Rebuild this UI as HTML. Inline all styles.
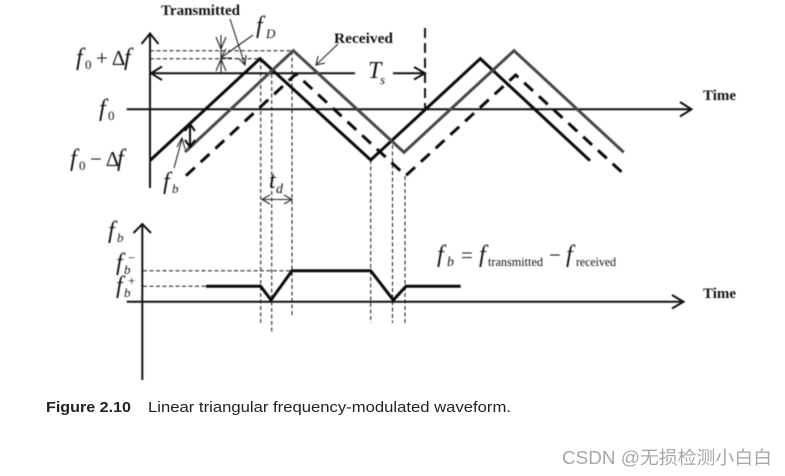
<!DOCTYPE html>
<html><head><meta charset="utf-8"><style>
html,body{margin:0;padding:0;background:#fff;width:785px;height:476px;overflow:hidden}
svg{display:block}
.m{font-family:"Liberation Serif",serif;font-style:italic;fill:#111}
.r{font-family:"Liberation Serif",serif;fill:#111}
.b{font-family:"Liberation Serif",serif;font-weight:bold;fill:#111;font-size:14.500px}
.c{font-family:"Liberation Sans",sans-serif;fill:#222;font-size:14.500px}
</style></head><body>
<svg width="785" height="476" viewBox="0 0 785 476" xmlns="http://www.w3.org/2000/svg">
<g fill="none" stroke-linejoin="miter">
<g style="filter:blur(.4px)">
<!-- thin dashed -->
<g stroke="#111" stroke-width="1" stroke-dasharray="4 2.500">
<path d="M150 50.700H293M150 58.700H260"/>
<path d="M260.700 59V324M271.700 74V333M292 51V317M370.700 160V323M392.500 145V323M405 176V325"/>
<path d="M143 270.700H292M143 286.300H206"/>
</g>
<!-- axes -->
<g stroke="#111" stroke-width="2">
<path d="M150 188V34M141.500 44L150 33.500L158.500 44"/>
<path d="M126.700 109.300H690M680 102L691.500 109.300L680 116.500"/>
<path d="M152 73.300H355M162 66.500L151 73.300L162 80M393 73.300H424M414 67L425 73.300L414 79.500"/>
<path d="M142.300 380V225M133.500 233L142.300 224L151 233"/>
<path d="M126.700 301.700H682M672 295L683.500 301.700L672 308.500"/>
</g>
<path d="M425 28V108" stroke="#111" stroke-width="2" stroke-dasharray="10 5"/>
<!-- waveforms -->
<path d="M150 160.500L260 58.700L370.700 160L480.300 58.700L590 160.700" stroke="#0a0a0a" stroke-width="3"/>
<path d="M185 152L293.300 50.700L404 152.300L514 50.700L623.700 152.300" stroke="#484848" stroke-width="3"/>
<path d="M186 175.700L296 74L405.700 175.700L515.700 75L625.700 175.700" stroke="#0a0a0a" stroke-width="3" stroke-dasharray="12 8"/>
<!-- beat -->
<path d="M206 286.300H260.700L271 300L292 270.700H370.700L393.300 300L406 286.300H460.700" stroke="#0a0a0a" stroke-width="3"/>
<!-- annotation arrows -->
<g stroke="#222" stroke-width="1.100">
<path d="M221 35V73M216 37L221 49L226 37M216 71L221 59L226 71"/>
<path d="M253 35L222 57M226 49L221 58L232 58"/>
<path d="M230 19L245 65M238 58L245 65L246 55"/>
<path d="M338 44L316 65M318 56L316 65L325 63"/>
<path d="M174 168L182 139M177 147L182 138L185 149"/>
<path d="M263 199.500H291M270 195L262 199.500L270 204M284 195L292 199.500L284 204"/>
</g>
<path d="M190 125V146M185 131L190 124L195 131M185 140L190 147L195 140" stroke="#0a0a0a" stroke-width="2"/>
<g stroke="none">
<text x="161" y="15" class="b" textLength="79" lengthAdjust="spacingAndGlyphs">Transmitted</text>
<text x="334" y="43" class="b" textLength="59" lengthAdjust="spacingAndGlyphs">Received</text>
<text x="703" y="100" class="b" textLength="33" lengthAdjust="spacingAndGlyphs">Time</text>
<text x="703" y="298" class="b" textLength="33" lengthAdjust="spacingAndGlyphs">Time</text>
<text x="76" y="65" class="m" font-size="24">f</text><text x="85" y="69" class="r" font-size="13">0</text><text x="96" y="65" class="r" font-size="21">+ Δ</text><text x="124" y="65" class="m" font-size="24">f</text>
<text x="99" y="116" class="m" font-size="24">f</text><text x="108" y="120" class="r" font-size="13">0</text>
<text x="70" y="166" class="m" font-size="24">f</text><text x="79" y="170" class="r" font-size="13">0</text><text x="90" y="166" class="r" font-size="21">− Δ</text><text x="117" y="166" class="m" font-size="24">f</text>
<text x="256" y="33" class="m" font-size="24">f</text><text x="266" y="38" class="m" font-size="13">D</text>
<text x="368" y="78" class="m" font-size="24">T</text><text x="380" y="84" class="m" font-size="13">s</text>
<text x="163" y="189" class="m" font-size="24">f</text><text x="172" y="193" class="m" font-size="13">b</text>
<text x="269" y="188" class="m" font-size="24">t</text><text x="276" y="193" class="m" font-size="14">d</text>
<text x="108" y="238" class="m" font-size="24">f</text><text x="117" y="242" class="m" font-size="13">b</text>
<text x="116" y="270" class="m" font-size="24">f</text><text x="124" y="274" class="m" font-size="13">b</text><text x="128" y="262" class="r" font-size="13">−</text>
<text x="116" y="293" class="m" font-size="24">f</text><text x="124" y="297" class="m" font-size="13">b</text><text x="128" y="285" class="r" font-size="13">+</text>
<text x="437" y="262" class="m" font-size="24">f</text><text x="447" y="266" class="m" font-size="14">b</text>
<text x="461" y="262" class="r" font-size="21">=</text>
<text x="479" y="262" class="m" font-size="24">f</text><text x="488" y="266" class="r" font-size="13" textLength="55" lengthAdjust="spacingAndGlyphs">transmitted</text>
<text x="549" y="262" class="r" font-size="21">−</text>
<text x="566" y="262" class="m" font-size="24">f</text><text x="576" y="266" class="r" font-size="13" textLength="40" lengthAdjust="spacingAndGlyphs">received</text>
</g>
</g>
</g>
<text y="412" x="46" class="c" font-weight="bold" textLength="85" lengthAdjust="spacingAndGlyphs">Figure 2.10</text>
<text y="412" x="148" class="c" textLength="363" lengthAdjust="spacingAndGlyphs">Linear triangular frequency-modulated waveform.</text>
<text x="562" y="464" font-family="'Liberation Sans','Noto Sans CJK SC',sans-serif" font-size="18" fill="#a8a8a8" textLength="210" lengthAdjust="spacingAndGlyphs">CSDN @无损检测小白白</text>
</svg>
</body></html>
